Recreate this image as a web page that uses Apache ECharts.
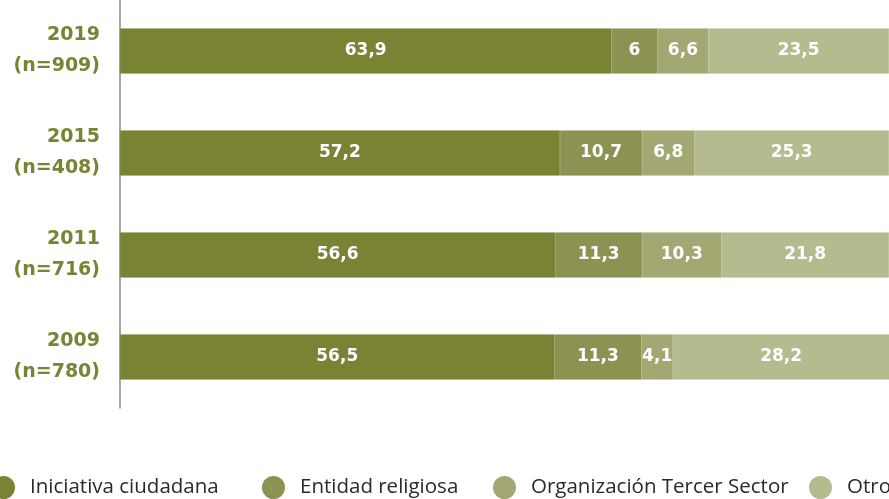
<!DOCTYPE html>
<html>
<head>
<meta charset="utf-8">
<script src="https://cdn.jsdelivr.net/npm/echarts@6/dist/echarts.min.js"></script>
<style>
html,body{margin:0;padding:0;background:#fff;}
#c{width:889px;height:499px;}
</style>
</head>
<body>
<div id="c"></div>
<script>
var years = ['2019', '2015', '2011', '2009'];
var sampleSizes = ['909', '408', '716', '780'];
var seriesNames = ['Iniciativa ciudadana', 'Entidad religiosa', 'Organización Tercer Sector', 'Otros'];
var iniciativa = [63.9, 57.2, 56.6, 56.5];
var religiosa = [6, 10.7, 11.3, 11.3];
var tercerSector = [6.6, 6.8, 10.3, 4.1];
var otros = [23.5, 25.3, 21.8, 28.2];

var colors = ['#7a8234', '#8c9352', '#a3a872', '#b5ba8f'];
var valuesList = [iniciativa, religiosa, tercerSector, otros];
var boldFont = 'DejaVu Sans';
var legendFont = 'Open Sans';
var legendLefts = [-8, 262, 493, 809];

var chart = echarts.init(document.getElementById('c'), null, {renderer: 'canvas'});
var series = seriesNames.map(function (name, i) {
  return {
    name: name,
    type: 'bar',
    stack: 'total',
    barWidth: 45,
    data: valuesList[i],
    itemStyle: {color: colors[i], borderColor: colors[i], borderWidth: 0.6},
    emphasis: {disabled: true},
    label: {
      show: true,
      position: 'inside',
      color: '#ffffff',
      fontFamily: boldFont,
      fontWeight: 'bold',
      fontSize: 17,
      formatter: function (p) { return String(p.value).replace('.', ','); }
    }
  };
});

var legends = seriesNames.map(function (name, i) {
  return {
    top: 476,
    left: legendLefts[i],
    padding: 0,
    itemWidth: 21,
    itemHeight: 21,
    icon: 'circle',
    textStyle: {fontFamily: legendFont, fontSize: 20.5, color: '#2a2a2a', padding: [0, 0, 0, 11]},
    data: [name]
  };
});

chart.setOption({
  animation: false,
  color: colors,
  grid: {left: 120, right: -15, top: -2, bottom: 91, containLabel: false},
  xAxis: {
    type: 'value', min: 0, max: 100,
    show: false
  },
  yAxis: {
    type: 'category',
    inverse: true,
    data: years,
    axisLine: {show: true, lineStyle: {color: '#8a8a8a', width: 1.5}},
    axisTick: {show: false},
    axisLabel: {
      margin: 20,
      align: 'right',
      color: '#7a8234',
      fontFamily: boldFont,
      fontWeight: 'bold',
      fontSize: 19,
      lineHeight: 31,
      formatter: function (v, idx) { return v + '\n(n=' + sampleSizes[idx] + ')'; }
    }
  },
  legend: legends,
  series: series
});
</script>
</body>
</html>
